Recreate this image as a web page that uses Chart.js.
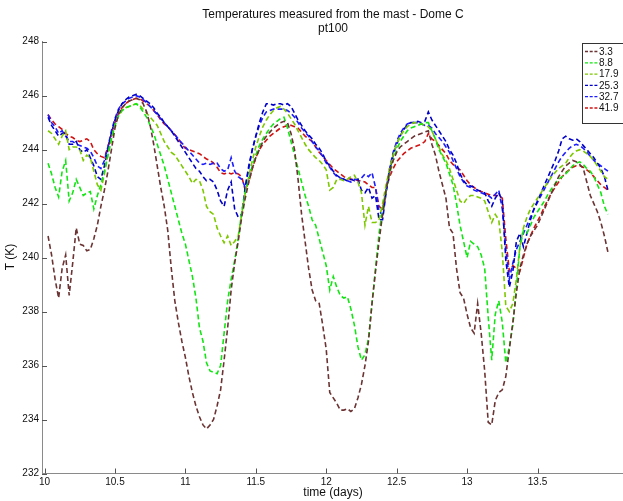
<!DOCTYPE html>
<html>
<head>
<meta charset="utf-8">
<script src="https://cdn.jsdelivr.net/npm/chart.js@4.4.1/dist/chart.umd.min.js"></script>
<style>
html,body{margin:0;padding:0;background:#fff;}
#c{display:block;}
</style>
</head>
<body>
<canvas id="c" width="623" height="501"></canvas>
<script>
// time axis (days)
const times = [
10.025,10.05,10.075,10.1,10.125,10.15,10.175,10.2,10.225,10.25,10.275,10.3,10.325,10.35,10.375,10.4,10.425,10.45,10.475,10.5,
10.525,10.55,10.575,10.6,10.625,10.65,10.675,10.7,10.725,10.75,10.775,10.8,10.825,10.85,10.875,10.9,10.925,10.95,10.975,11,
11.025,11.05,11.075,11.1,11.125,11.15,11.175,11.2,11.225,11.25,11.275,11.3,11.325,11.35,11.375,11.4,11.425,11.45,11.475,11.5,
11.525,11.55,11.575,11.6,11.625,11.65,11.675,11.7,11.725,11.75,11.775,11.8,11.825,11.85,11.875,11.9,11.925,11.95,11.975,12,
12.025,12.05,12.075,12.1,12.125,12.15,12.175,12.2,12.225,12.25,12.275,12.3,12.325,12.35,12.375,12.4,12.425,12.45,12.475,12.5,
12.525,12.55,12.575,12.6,12.625,12.65,12.675,12.7,12.725,12.75,12.775,12.8,12.825,12.85,12.875,12.9,12.925,12.95,12.975,13,
13.025,13.05,13.075,13.1,13.125,13.15,13.175,13.2,13.225,13.25,13.275,13.3,13.325,13.35,13.375,13.4,13.425,13.45,13.475,13.5,
13.525,13.55,13.575,13.6,13.625,13.65,13.675,13.7,13.725,13.75,13.775,13.8,13.825,13.85,13.875,13.9,13.925,13.95,13.975,14
];

// temperature (K) at each height (m)
const t3_3 = [
240.8,240.1,239.2,238.5,239.6,240.1,238.6,239.8,241.1,240.5,240.45,240.25,240.3,240.7,241.2,241.9,242.5,243.2,244.0,244.8,
245.3,245.55,245.7,245.8,245.85,245.9,245.85,245.7,245.4,244.9,244.2,243.4,242.6,241.9,241.0,239.6,238.4,237.6,236.9,236.3,
235.6,235.0,234.5,234.1,233.8,233.65,233.8,234.0,234.5,235.1,236.2,237.4,238.8,239.8,240.6,241.5,242.2,242.8,243.3,243.7,
244.0,244.3,244.5,244.65,244.8,244.9,245.0,245.05,245.0,244.6,244.0,242.9,241.6,240.6,239.6,238.8,238.4,238.3,237.5,236.6,
235.0,234.8,234.6,234.35,234.35,234.4,234.3,234.4,234.8,235.3,236.0,236.9,238.3,239.5,240.6,241.6,242.5,243.2,243.6,243.9,
244.1,244.2,244.3,244.4,244.5,244.55,244.6,244.65,244.7,244.2,243.8,243.2,242.7,242.2,241.1,240.9,239.6,238.7,238.5,237.9,
237.4,237.2,238.3,237.2,235.8,233.9,233.8,234.7,235.0,235.1,235.6,236.6,237.6,238.7,239.6,240.1,240.5,240.8,241.0,241.2,
241.5,241.8,242.1,242.4,242.7,243.0,243.2,243.4,243.5,243.6,243.55,243.45,243.3,242.8,242.3,242.0,241.7,241.3,240.8,240.2
];
const t8_8 = [
243.5,243.1,242.6,242.25,243.2,243.6,242.1,242.4,242.9,242.6,242.3,242.4,242.45,241.8,242.3,242.7,243.2,243.8,244.4,244.9,
245.25,245.45,245.55,245.6,245.65,245.7,245.6,245.4,245.2,244.9,244.6,244.2,243.8,243.4,242.9,242.4,241.9,241.4,240.9,240.5,
239.9,239.3,238.5,237.4,236.9,236.1,235.8,235.75,235.7,236.0,237.2,238.4,239.2,239.9,240.7,241.7,242.4,242.9,243.4,243.8,
244.15,244.4,244.6,244.8,244.95,245.05,245.15,245.2,244.8,244.3,243.8,243.3,242.8,242.3,241.9,241.4,241.2,240.7,240.2,239.7,
238.8,239.3,238.9,238.6,238.5,238.55,238.1,237.5,236.7,236.2,236.4,237.0,238.3,239.6,240.9,241.8,242.5,243.1,243.6,244.0,
244.3,244.5,244.7,244.8,244.85,244.9,244.95,245.0,245.0,244.7,244.4,244.0,243.75,243.5,243.1,242.7,242.0,241.2,240.6,240.0,
240.6,240.5,240.4,240.1,239.6,237.8,236.2,237.9,238.4,237.6,236.1,236.7,237.5,238.9,240.4,241.0,240.9,241.2,241.5,241.7,
241.9,242.1,242.35,242.55,242.75,242.9,243.0,243.1,243.25,243.4,243.5,243.55,243.45,243.3,243.2,243.0,242.7,242.4,241.9,241.6
];
const t17_9 = [
244.7,244.6,244.4,244.2,244.5,244.7,244.0,244.1,244.1,244.0,243.6,243.8,243.7,243.2,242.7,242.5,243.1,243.8,244.4,244.9,
245.25,245.45,245.55,245.6,245.65,245.7,245.65,245.5,245.35,245.2,245.05,244.9,244.6,244.3,244.1,243.9,243.8,243.6,243.4,243.2,
243.0,242.75,242.9,242.85,242.5,241.9,241.7,241.6,241.1,240.8,240.55,240.8,240.45,240.6,240.8,241.6,242.4,243.0,243.6,244.1,
244.5,244.85,245.1,245.3,245.45,245.55,245.6,245.5,245.35,245.15,244.95,244.7,244.45,244.2,244.0,243.85,243.7,243.6,243.45,243.25,
242.5,242.6,242.9,242.9,242.85,242.9,243.0,243.05,242.8,242.4,241.2,241.9,241.3,241.3,241.4,242.0,242.7,243.3,243.8,244.2,
244.5,244.7,244.85,244.95,245.0,245.0,244.95,244.9,244.85,244.7,244.4,244.1,243.8,243.6,243.3,242.9,242.5,242.1,242.0,242.2,
242.3,242.3,242.25,242.2,242.1,241.7,241.3,241.6,241.4,240.2,238.2,238.0,238.3,239.2,240.4,241.1,241.5,241.8,242.0,242.2,
242.4,242.6,242.8,243.0,243.15,243.3,243.4,243.5,243.7,243.85,243.95,244.0,243.95,243.85,243.75,243.6,243.4,243.2,243.0,242.9
];
const t25_3 = [
245.2,244.9,244.7,244.5,244.6,244.6,244.2,244.2,244.3,244.0,243.9,244.0,243.7,243.4,243.0,242.9,243.4,244.0,244.6,245.1,
245.45,245.7,245.85,245.95,246.0,246.05,246.0,245.9,245.8,245.7,245.55,245.35,245.2,245.0,244.85,244.7,244.5,244.3,244.1,243.9,
243.7,243.5,243.3,243.2,243.0,242.85,242.9,242.8,242.5,242.1,241.9,242.5,242.8,241.8,241.5,241.6,242.6,243.4,244.0,244.5,
245.0,245.4,245.7,245.7,245.65,245.7,245.7,245.65,245.7,245.6,245.35,245.1,244.9,244.7,244.55,244.4,244.2,244.05,243.85,243.55,
243.4,243.2,243.05,242.95,242.9,242.85,242.9,242.85,242.9,242.5,242.4,242.6,242.2,242.3,241.4,241.4,242.4,243.2,243.8,244.2,
244.5,244.75,244.9,245.0,245.0,245.05,245.0,245.05,245.4,245.1,244.9,244.7,244.5,244.3,244.0,243.8,243.5,243.1,242.85,242.7,
242.65,242.6,242.5,242.45,242.4,242.1,241.9,242.2,242.4,242.1,239.9,238.9,239.5,240.6,240.9,240.4,240.9,241.4,241.8,242.1,
242.4,242.7,243.0,243.3,243.6,243.95,244.4,244.5,244.4,244.35,244.4,244.3,244.15,244.0,243.85,243.7,243.5,243.3,243.0,242.5
];
const t32_7 = [
245.3,245.0,244.85,244.6,244.7,244.5,244.3,244.3,244.2,244.15,244.1,244.05,243.95,243.7,243.4,243.3,243.6,244.1,244.7,245.15,
245.5,245.7,245.8,245.9,245.95,246.0,245.95,245.85,245.75,245.6,245.45,245.3,245.15,245.0,244.85,244.7,244.55,244.4,244.25,244.1,
243.95,243.8,243.65,243.5,243.45,243.5,243.45,243.5,243.5,243.3,243.2,243.25,243.7,243.2,243.0,242.9,242.6,243.3,244.0,244.5,
244.9,245.2,245.4,245.45,245.5,245.5,245.5,245.5,245.45,245.35,245.2,245.0,244.8,244.65,244.5,244.3,244.1,243.95,243.75,243.5,
243.35,243.15,243.0,242.95,242.9,242.85,242.8,242.9,242.9,242.95,243.1,243.0,243.15,242.6,241.7,241.6,242.5,243.3,243.9,244.3,
244.6,244.8,244.95,245.0,245.0,245.0,244.95,244.9,244.9,244.8,244.6,244.45,244.3,244.1,243.9,243.6,243.3,243.0,242.8,242.65,
242.6,242.5,242.45,242.4,242.35,242.3,242.2,242.35,242.5,241.8,240.3,239.2,239.8,240.3,240.6,240.9,241.2,241.5,241.8,242.05,
242.3,242.55,242.8,243.05,243.3,243.55,243.75,243.9,244.05,244.15,244.2,244.15,244.05,243.9,243.75,243.6,243.5,243.4,243.3,243.2
];
const t41_9 = [
245.3,245.1,244.95,244.85,244.75,244.6,244.5,244.45,244.35,244.3,244.35,244.4,244.3,244.0,243.85,243.75,243.7,244.1,244.6,245.0,
245.35,245.55,245.7,245.8,245.85,245.9,245.9,245.8,245.7,245.6,245.45,245.3,245.1,244.95,244.85,244.7,244.55,244.4,244.2,244.05,
244.0,243.95,243.9,243.85,243.75,243.65,243.6,243.5,243.35,243.15,243.1,243.15,243.1,243.15,243.1,243.0,242.5,242.8,243.3,243.7,
244.0,244.2,244.35,244.5,244.6,244.7,244.8,244.85,244.9,244.9,244.85,244.8,244.65,244.5,244.4,244.3,244.1,243.9,243.75,243.6,
243.45,243.3,243.2,243.1,243.0,242.95,242.9,242.9,242.85,242.85,242.8,242.7,242.6,242.6,241.9,241.8,242.5,243.0,243.3,243.55,
243.7,243.85,243.95,244.05,244.1,244.15,244.2,244.3,244.6,244.4,244.3,244.15,244.0,243.85,243.6,243.45,243.35,243.25,243.05,242.85,
242.7,242.6,242.5,242.45,242.4,242.35,242.3,242.3,242.3,242.2,240.7,239.5,239.7,239.6,239.5,240.0,240.5,240.8,241.1,241.35,
241.6,241.9,242.15,242.4,242.6,242.8,243.0,243.15,243.25,243.35,243.4,243.4,243.35,243.25,243.15,243.0,242.85,242.7,242.6,242.5
];

const seriesLabels = ['3.3','8.8','17.9','25.3','32.7','41.9'];
const xTickValues = [10,10.5,11,11.5,12,12.5,13,13.5];
const yTickValues = [232,234,236,238,240,242,244,246,248];
const chartTitle = ['Temperatures measured from the mast - Dome C','pt100'];
const xTitle = 'time (days)';
const yTitle = 'T (K)';

const seriesValues = [t3_3,t8_8,t17_9,t25_3,t32_7,t41_9];
const colors = ['#6b3333','#12e612','#7ec800','#0000c8','#1c1cff','#d01212'];
const FONT = '"Liberation Sans", Arial, Helvetica, sans-serif';

const datasets = seriesValues.map((vals,k)=>({
  label: seriesLabels[k],
  data: vals.map((v,i)=>({x: times[i], y: v})),
  borderColor: colors[k],
  backgroundColor: colors[k],
  borderWidth: 1.6,
  borderDash: [5,3],
  pointRadius: 0,
  tension: 0,
  fill: false
}));

const decor = {
  id: 'decor',
  afterDraw(chart){
    const ctx = chart.ctx;
    const xs = chart.scales.x, ys = chart.scales.y;
    const ca = chart.chartArea;
    ctx.save();
    // inward tick marks
    ctx.strokeStyle = '#555';
    ctx.lineWidth = 1;
    ctx.setLineDash([]);
    ctx.beginPath();
    xTickValues.forEach(v=>{
      const px = Math.round(xs.getPixelForValue(v)) + 0.5;
      ctx.moveTo(px, ca.bottom);
      ctx.lineTo(px, ca.bottom - 5);
    });
    yTickValues.forEach(v=>{
      const py = Math.round(ys.getPixelForValue(v)) + 0.5;
      ctx.moveTo(ca.left, py);
      ctx.lineTo(ca.left + 5, py);
    });
    ctx.stroke();

    // titles
    ctx.fillStyle = '#111';
    ctx.textAlign = 'center';
    ctx.textBaseline = 'middle';
    ctx.font = '12px ' + FONT;
    ctx.fillText(chartTitle[0], 333, 15);
    ctx.fillText(chartTitle[1], 333, 29);
    ctx.fillText(xTitle, 333, 493);
    ctx.save();
    ctx.translate(11, 257);
    ctx.rotate(-Math.PI/2);
    ctx.fillText(yTitle, 0, 0);
    ctx.restore();

    // legend
    const lx = 582.5, ly = 43.5, lh = 80;
    ctx.fillStyle = '#fff';
    ctx.fillRect(lx, ly, 60, lh);
    ctx.strokeStyle = '#333';
    ctx.lineWidth = 1;
    ctx.strokeRect(lx, ly, 60, lh);
    ctx.font = '10px ' + FONT;
    ctx.textAlign = 'left';
    ctx.textBaseline = 'middle';
    seriesLabels.forEach((lab,k)=>{
      const yy = 51.5 + k*11.3;
      ctx.strokeStyle = colors[k];
      ctx.lineWidth = 1.3;
      ctx.setLineDash([3,1.7]);
      ctx.beginPath();
      ctx.moveTo(585, yy);
      ctx.lineTo(598, yy);
      ctx.stroke();
      ctx.setLineDash([]);
      ctx.fillStyle = '#111';
      ctx.fillText(lab, 599, yy + 0.5);
    });
    ctx.restore();
  }
};

new Chart(document.getElementById('c').getContext('2d'), {
  type: 'line',
  data: { datasets },
  options: {
    responsive: false,
    animation: false,
    devicePixelRatio: 1,
    layout: { padding: { left: 0, right: 0, top: 41.7, bottom: 0 } },
    plugins: { legend: { display: false }, title: { display: false }, tooltip: { enabled: false } },
    scales: {
      x: {
        type: 'linear', min: 9.982, max: 14.107,
        afterBuildTicks: s => { s.ticks = xTickValues.map(v => ({ value: v })); },
        afterFit: s => { s.height = 27.5; },
        grid: { display: false, drawTicks: false },
        border: { display: true, color: '#8a8a8a', width: 1 },
        ticks: { color: '#111', font: { family: FONT, size: 10 }, padding: 3, maxRotation: 0, autoSkip: false, callback: v => String(v) }
      },
      y: {
        type: 'linear', min: 232, max: 248,
        afterBuildTicks: s => { s.ticks = yTickValues.map(v => ({ value: v })); },
        afterFit: s => { s.width = 42; },
        grid: { display: false, drawTicks: false },
        border: { display: true, color: '#8a8a8a', width: 1 },
        ticks: { color: '#111', font: { family: FONT, size: 10 }, padding: 3, autoSkip: false, callback: v => String(v) }
      }
    }
  },
  plugins: [decor]
});
</script>
</body>
</html>
